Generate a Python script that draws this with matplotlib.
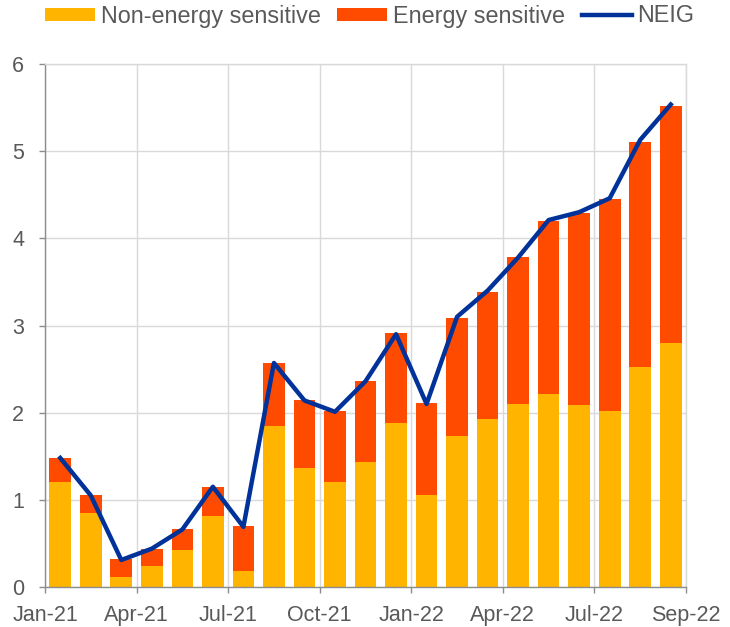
import matplotlib
matplotlib.use("Agg")
import matplotlib.pyplot as plt
import numpy as np

plt.rcParams['font.family'] = ['Liberation Sans', 'DejaVu Sans']

months = ["Jan-21", "Feb-21", "Mar-21", "Apr-21", "May-21", "Jun-21", "Jul-21",
          "Aug-21", "Sep-21", "Oct-21", "Nov-21", "Dec-21", "Jan-22", "Feb-22",
          "Mar-22", "Apr-22", "May-22", "Jun-22", "Jul-22", "Aug-22", "Sep-22"]
non_energy = [1.20, 0.845, 0.12, 0.245, 0.42, 0.81, 0.18, 1.85, 1.36, 1.21, 1.43,
              1.88, 1.055, 1.735, 1.93, 2.095, 2.21, 2.09, 2.02, 2.52, 2.80]
energy = [0.28, 0.205, 0.20, 0.195, 0.25, 0.34, 0.52, 0.72, 0.78, 0.81, 0.93,
          1.03, 1.055, 1.355, 1.45, 1.695, 1.99, 2.195, 2.43, 2.58, 2.72]
neig = [1.48, 1.05, 0.31, 0.44, 0.66, 1.15, 0.69, 2.57, 2.14, 2.01, 2.36,
        2.90, 2.10, 3.10, 3.40, 3.78, 4.21, 4.30, 4.46, 5.13, 5.535]
tick_labels = ["Jan-21", "Apr-21", "Jul-21", "Oct-21", "Jan-22", "Apr-22", "Jul-22", "Sep-22"]
y_ticks = [0, 1, 2, 3, 4, 5, 6]

c_ne = "#FFB400"
c_en = "#FF4B00"
c_line = "#003299"
grid_c = "#D9D9D9"
text_c = "#595959"

fig = plt.figure(figsize=(7.30, 6.27), dpi=100)
ax = fig.add_axes([45/730, 1-587/627, (686-45)/730, (587-64)/627])

x = np.arange(len(months))
b1 = ax.bar(x, non_energy, width=0.71, color=c_ne, label="Non-energy sensitive", zorder=2)
b2 = ax.bar(x, energy, width=0.71, bottom=non_energy, color=c_en, label="Energy sensitive", zorder=2)
ln, = ax.plot(x, neig, color=c_line, lw=3.2, label="NEIG", zorder=3)

ax.set_xlim(-0.5, len(months) - 0.5)
ax.set_ylim(0, 6)
ax.set_yticks(y_ticks)
ax.set_yticklabels([str(v) for v in y_ticks])
xt = [-0.5 + 3*k for k in range(7)] + [len(months) - 0.5]
ax.set_xticks(xt)
ax.set_xticklabels(tick_labels)

ax.grid(True, color=grid_c, lw=1.0, zorder=0)
for s in ["top", "right"]:
    ax.spines[s].set_color(grid_c)
    ax.spines[s].set_linewidth(1.0)
for s in ["left", "bottom"]:
    ax.spines[s].set_color("#8C8C8C")
    ax.spines[s].set_linewidth(1.0)
ax.tick_params(axis='both', colors="#8C8C8C", labelcolor=text_c, labelsize=15.5, length=4, width=1.0)
ax.tick_params(axis='y', pad=11)
ax.tick_params(axis='x', pad=9)
ax.set_axisbelow(True)

fig.legend([b1, b2, ln], ["Non-energy sensitive", "Energy sensitive", "NEIG"],
           loc='center left', bbox_to_anchor=(45/730, 1-16/627), ncol=3, frameon=False,
           fontsize=16.8, handlelength=2.15, handleheight=0.5, handletextpad=0.25,
           columnspacing=0.7, borderpad=0, borderaxespad=0, labelcolor=text_c)

fig.savefig("out.png", dpi=100)
